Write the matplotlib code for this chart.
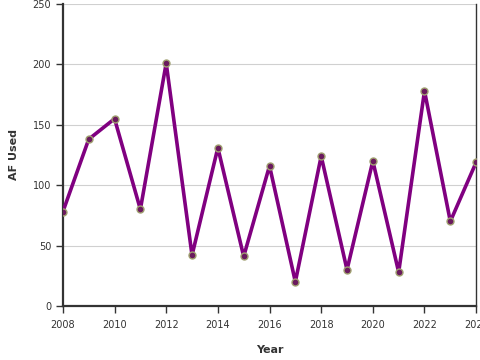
import matplotlib
matplotlib.use("Agg")
import matplotlib.pyplot as plt

years = list(range(2008, 2025))
af_used = [78, 138, 155, 80, 201, 42, 131, 41, 116, 20, 124, 30, 120, 28, 178, 70, 119]
xticks = list(range(2008, 2025, 2))
yticks = [0, 50, 100, 150, 200, 250]

fig = plt.figure(figsize=(4.8, 3.6), dpi=100)
ax = fig.add_axes([0.131, 0.15, 0.861, 0.839])

ax.plot(years, af_used, color='#800080', linewidth=2.6, zorder=3,
        marker='o', markersize=5, markerfacecolor='#6a1a5e',
        markeredgecolor='#a0a070', markeredgewidth=1)

ax.set_xlim(2008, 2024)
ax.set_ylim(0, 250)
ax.set_xticks(xticks)
ax.set_yticks(yticks)
ax.grid(axis='y', color='#d0d0d0', linewidth=0.8)
ax.set_axisbelow(True)

for s in ['left', 'bottom']:
    ax.spines[s].set_linewidth(1.6)
    ax.spines[s].set_color('#333333')
ax.spines['right'].set_linewidth(1.0)
ax.spines['right'].set_color('#333333')
ax.spines['top'].set_visible(False)

ax.tick_params(labelsize=7, colors='#333333', length=5, width=1)
ax.tick_params(axis='x', pad=5)
ax.set_xlabel('Year', fontsize=8, fontweight='bold', color='#333333', labelpad=11)
ax.set_ylabel('AF Used', fontsize=8, fontweight='bold', color='#333333', labelpad=10)

fig.savefig('out.png', dpi=100)
